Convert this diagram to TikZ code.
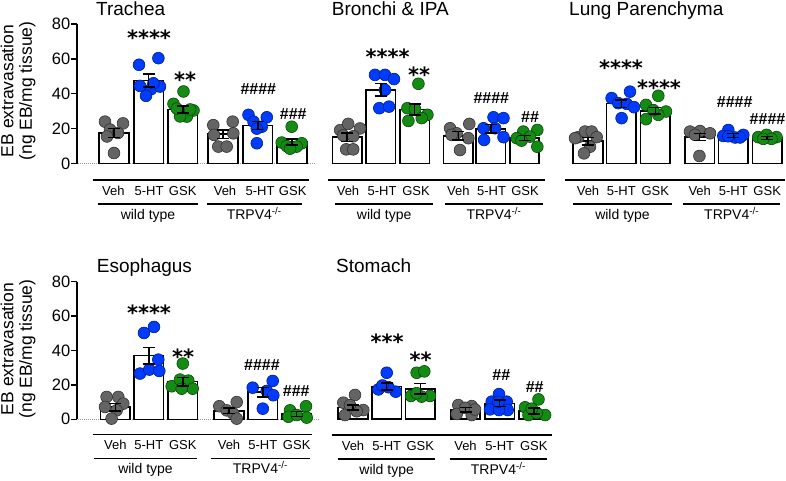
\documentclass[tikz,border=0pt]{standalone}
\usepackage{fontspec}
\setmainfont{Liberation Sans}
\newfontfamily\djv{DejaVu Sans}
\definecolor{cgray}{RGB}{100,100,100}
\definecolor{cblue}{RGB}{0,60,255}
\definecolor{cgreen}{RGB}{20,140,20}
\pgfdeclarelayer{bg}
\pgfdeclarelayer{paper}
\pgfsetlayers{paper,bg,main}
\newcommand{\sbar}[5]{%
  \begin{pgfonlayer}{bg}
    \draw[barbox] ({#1-14.75},\pbase) rectangle ({#1+14.75},{\pbase-(#2)*\pscale});
  \end{pgfonlayer}
  \foreach \dx/\v in {#5} {\filldraw[fill=#4, draw=#4!50!black, line width=0.6pt] ({#1+(\dx)},{\pbase-(\v)*\pscale}) circle[radius=5.9pt];}
  \draw[errb] (#1,{\pbase-(#2-#3)*\pscale}) -- (#1,{\pbase-(#2+#3)*\pscale});
  \draw[errb] ({#1-6},{\pbase-(#2-#3)*\pscale}) -- ({#1+6},{\pbase-(#2-#3)*\pscale});
  \draw[errb] ({#1-6},{\pbase-(#2+#3)*\pscale}) -- ({#1+6},{\pbase-(#2+#3)*\pscale});
}
\newcommand{\yax}[1]{%
  \draw[axl] (77,\pbase) -- (77,{\pbase-80*\pscale});
  \foreach \t in {0,20,40,60,80} {
    \draw[axl] (71,{\pbase-\t*\pscale}) -- (77,{\pbase-\t*\pscale});
    \node[ticklab] (#1\t) at (70.5,{\pbase-\t*\pscale}) {\t};
  }
}
\newcommand{\catax}[9]{%
  \draw[catline] (#3,#2) -- (#4,#2);
  \draw[catline] (#5,{#2+24}) -- (#6,{#2+24});
  \draw[catline] (#7,{#2+24}) -- (#8,{#2+24});
  \foreach \xx/\lab [count=\i] in {#9} {\node[catlab] (#1c\i) at (\xx,{#2+15}) {\lab};}
  \node[grplab] (#1w) at ({(#5+#6)/2},{#2+39.5}) {wild type};
  \node[grplab] (#1t) at ({(#7+#8)/2},{#2+39.5}) {TRPV4\textsuperscript{-/-}};
}
\begin{document}
\begin{tikzpicture}[x=1pt,y=-1pt,
  barbox/.style={draw=black, fill=white, line width=1.6pt},
  errb/.style={draw=black, line width=1.5pt},
  axl/.style={draw=black, line width=1.5pt},
  catline/.style={draw=black, line width=1.4pt},
  zeroline/.style={draw=gray!80, line width=0.8pt, dash pattern=on 1pt off 1pt},
  ticklab/.style={anchor=east, inner sep=0pt, font=\fontsize{16.5}{18}\selectfont},
  catlab/.style={anchor=base, inner sep=0pt, font=\fontsize{13}{15}\selectfont},
  grplab/.style={anchor=base, inner sep=0pt, font=\fontsize{14}{16}\selectfont},
  ttl/.style={anchor=base west, inner sep=0pt, font=\fontsize{19}{21}\selectfont},
  stars/.style={anchor=north, inner sep=0pt, font=\djv\bfseries\fontsize{21}{21}\selectfont},
  hashes/.style={anchor=north, inner sep=0pt, font=\bfseries\fontsize{16}{16}\selectfont},
  ylab/.style={rotate=90, align=center, inner sep=0pt, font=\fontsize{17.5}{18.5}\selectfont}
]
\begin{pgfonlayer}{paper}
\fill[white] (0,0) rectangle (786,480);
\draw[zeroline] (78,163.5) -- (315,163.5);
\draw[zeroline] (78,419.3) -- (320,419.3);
\end{pgfonlayer}
\useasboundingbox (0,0) rectangle (786,480);

% y labels
\node[ylab] (yl1) at (18,91) {EB extravasation\\(ng EB/mg tissue)};
\node[ylab] (yl2) at (18,349) {EB extravasation\\(ng EB/mg tissue)};

% ---------- Trachea ----------
\def\pbase{163.5}\def\pscale{1.744}
\yax{ta}
\sbar{114}{17.6}{2.6}{cgray}{-9/24, 9/23, -4/19.5, 4/17.5, -7/15.5, 0/6}
\sbar{148.7}{47.7}{3.7}{cblue}{-9.7/56.6, 9.7/60.4, -8.7/44.5, 2.3/42.6, 11.3/44.1, -2.7/38.8, 4.7/46}
\sbar{182.8}{31}{2.1}{cgreen}{0.7/41.3, -9.3/34.2, 10.7/30.4, 4/26.9, -2.7/27, 7.3/31, -6/31.5}
\sbar{223}{16.8}{2.5}{cgray}{-9.7/22, 9.7/24, -9/16.4, 10.3/17.3, -4.7/9.7, 3.7/9.7}
\sbar{257.8}{21.8}{2.2}{cblue}{-9.3/27.9, 9/26.5, -4.3/24, 4/21.1, -1/20, -1/11.6}
\sbar{292}{12.3}{1.7}{cgreen}{-0.3/21.1, -10.3/12, 9.7/11.6, -5.3/10, 4.7/9.7, -2/8.5}
\catax{ta}{180}{92.7}{309.3}{97.7}{198.3}{206.7}{301.7}{113.3/Veh, 149/5-HT, 182.7/GSK, 225/Veh, 260/5-HT, 292.7/GSK}
\node[ttl] (tt1) at (96,15) {Trachea};
\node[stars] (ta1) at (149,30) {****};
\node[stars] (ta2) at (185,71.7) {**};
\node[hashes] (ta3) at (258.3,83.3) {\#\#\#\#};
\node[hashes] (ta4) at (293.3,108.3) {\#\#\#};

% ---------- Bronchi ----------
\def\pbase{163.3}\def\pscale{1.744}
\sbar{347.2}{15}{2.5}{cgray}{-7/19, 1/22.6, 12.8/20, -4/16, 6/15.5, -1/8, 6/8}
\sbar{380.8}{42.2}{3.6}{cblue}{-5.8/50.7, 4.2/50.7, 13.2/48.3, 4.2/42.1, -1.5/31.6, 8.2/32.5}
\sbar{414.7}{30.8}{3.1}{cgreen}{3.7/45.6, -7.3/31.6, 0.3/31, 12.7/27.8, 7/25.9, -6.3/24.3}
\sbar{458.3}{15.8}{2.4}{cgray}{-8.3/20.1, 11/22.6, -1.7/17.2, 10/14.4, 1.7/7.6, -6.7/16.3}
\sbar{490.8}{19.8}{2.5}{cblue}{2.7/26.4, 12.7/25.9, -7.3/20.1, 4.3/20.1, 12.7/15, -6.7/13.4}
\sbar{524.5}{14.6}{1.4}{cgreen}{12.8/19.1, -1.2/18.2, -7.8/14.4, 5.5/15.3, 12.8/9.5, -3/13}
\catax{bi}{180}{328.3}{545}{335}{433.3}{445}{543}{348/Veh, 382/5-HT, 416/GSK, 458.3/Veh, 491.5/5-HT, 525/GSK}
\node[ttl] (tt2) at (331.7,15) {Bronchi \& IPA};
\node[stars] (bi1) at (387.7,48.3) {****};
\node[stars] (bi2) at (419,66.7) {**};
\node[hashes] (bi3) at (491.3,92.7) {\#\#\#\#};
\node[hashes] (bi4) at (530,111.7) {\#\#};

% ---------- Lung ----------
\sbar{588}{12.7}{2.2}{cgray}{-9.7/15, -3/18.2, 3.7/18.2, 8.7/15, 2/9.5, -4/5.7, -13/14.4}
\sbar{621.3}{34.2}{2.1}{cblue}{-9.7/37.4, 8.7/41.1, -3/34.5, 5.3/34.1, 12.7/32.2, 0.3/25.9}
\sbar{655.3}{30.1}{1.8}{cgreen}{3/38.7, -9.3/33.5, 10.7/29.7, 3/27.8, -9.3/25.3, -2/30.5}
\sbar{699.7}{15.1}{2.1}{cgray}{-9.7/18.2, 0.3/18.5, 10.3/17.2, -4.7/16.3, -0.3/4.2}
\sbar{733.3}{16}{1.1}{cblue}{-5/19.1, -10/15.7, 10/16.3, 1.7/14.8, 6.7/14.8, -5/15.5}
\sbar{767.2}{14.6}{0.9}{cgreen}{-9/15, -0.7/16.3, 9.3/15, 4.3/14, -4/14}
\catax{lp}{180}{565}{785}{573.3}{671.7}{683.3}{780}{588/Veh, 621.3/5-HT, 655.3/GSK, 699.7/Veh, 733.3/5-HT, 767.2/GSK}
\node[ttl] (tt3) at (569,15) {Lung Parenchyma};
\node[stars] (lp1) at (621,60) {****};
\node[stars] (lp2) at (659,80) {****};
\node[hashes] (lp3) at (734.7,96.7) {\#\#\#\#};
\node[hashes] (lp4) at (767.5,113.3) {\#\#\#\#};

% ---------- Esophagus ----------
\def\pbase{419.3}\def\pscale{1.72}
\yax{es}
\sbar{115.3}{7}{2.3}{cgray}{-8.7/13, 3/13, 8/9.1, -10.3/7.2, 1.3/5.2, -3.7/0.4}
\sbar{148.8}{37}{4.8}{cblue}{-4.8/50.2, 5.2/53.7, 9.5/34.7, -8.8/26.6, 0.5/28.9, 10.5/28.1}
\sbar{182.8}{21.9}{2.5}{cgreen}{0/32.4, -11.1/19.2, -2.8/23.1, 5.5/22.5, 9.9/17.8, -1.1/17.8}
\sbar{229}{5}{1.5}{cgray}{-9.7/7.6, 7.7/10, -2.3/5.2, 4.3/3.3, 7.7/0.4}
\sbar{262.8}{15.8}{2.7}{cblue}{9.9/22.3, -10.1/18.4, 3.9/16.5, 10.5/14, 0/6.2}
\sbar{296.7}{3}{1.5}{cgreen}{9.3/7.6, -6.7/5.2, 10/1, -8.3/1.5, 0/2.5}
\catax{es}{434.3}{93.3}{312}{94.3}{196.7}{210.7}{310}{115.3/Veh, 148.8/5-HT, 182.8/GSK, 229/Veh, 262.8/5-HT, 296.7/GSK}
\node[ttl] (tt4) at (96.7,272.3) {Esophagus};
\node[stars] (es1) at (149,305) {****};
\node[stars] (es2) at (183,348.3) {**};
\node[hashes] (es3) at (262,359.3) {\#\#\#\#};
\node[hashes] (es4) at (296.3,385) {\#\#\#};

% ---------- Stomach ----------
\def\pbase{419}\def\pscale{1.72}
\sbar{353}{6.7}{1.5}{cgray}{2/14, -9.7/9.5, 10.3/5.2, -8/2.3, 3.7/4.5, -3/8}
\sbar{386.7}{18.8}{2}{cblue}{0/26.9, -8.3/17.2, 9/15.9, 1.7/18.5, -4.3/19.5}
\sbar{420.3}{17.6}{3.1}{cgreen}{-3.7/26.9, 4/27.7, -9.3/13.4, 9.7/13.4, 1.3/13, -3.7/15}
\sbar{465.5}{5.5}{1.3}{cgray}{-7.2/8.1, 6.2/7.5, -8.8/2.9, 6.2/2.3, -0.5/6.5, 9.5/5.5}
\sbar{499.7}{9.1}{1.9}{cblue}{-0.7/14.5, -8/10.1, 7/10.1, -9.7/5.6, 8/5.2, -0.7/5.2, -1.3/10}
\sbar{533.8}{4.6}{1.7}{cgreen}{4.7/11.4, -8.7/6.8, 11.3/2.3, -5.3/2.3, 3/3.5, -2/6}
\catax{st}{435}{331.7}{551.7}{338.3}{435}{450}{546.7}{353/Veh, 386.7/5-HT, 420.3/GSK, 465.5/Veh, 499.7/5-HT, 533.8/GSK}
\node[ttl] (tt5) at (336,272.3) {Stomach};
\node[stars] (st1) at (387,333.3) {***};
\node[stars] (st2) at (420.7,351.7) {**};
\node[hashes] (st3) at (501.3,369.3) {\#\#};
\node[hashes] (st4) at (534.7,381.7) {\#\#};
\end{tikzpicture}
\end{document}
